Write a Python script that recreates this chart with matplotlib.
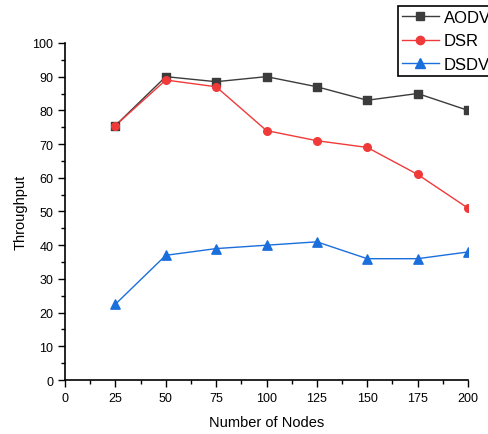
import matplotlib.pyplot as plt
from matplotlib.lines import Line2D
from matplotlib.ticker import MultipleLocator

plt.rcParams['font.family'] = ['Liberation Sans', 'DejaVu Sans']

nodes = [25, 50, 75, 100, 125, 150, 175, 200]
aodv = [75.5, 90, 88.5, 90, 87, 83, 85, 80]
dsr = [75.5, 89, 87, 74, 71, 69, 61, 51]
dsdv = [22.5, 37, 39, 40, 41, 36, 36, 38]

series = [
    ("AODV", aodv, '#3c3c3c', 's', 30),
    ("DSR", dsr, '#f03a3a', 'o', 30),
    ("DSDV", dsdv, '#1a6fdc', '^', 45),
]

fig = plt.figure(figsize=(4.89, 4.35), dpi=100)
ax = fig.add_axes([0.133, 0.124, 0.824, 0.775])

handles = []
for name, vals, col, mk, sz in series:
    ax.plot(nodes, vals, color=col, lw=1.0)
    # scatter so the markers on the axis edge get clipped in half
    ax.scatter(nodes, vals, color=col, marker=mk, s=sz, zorder=3)
    handles.append(Line2D([], [], color=col, lw=1.0, marker=mk,
                          markersize=6 if mk != '^' else 7, label=name))

ax.set_xlim(0, 200)
ax.set_ylim(0, 100)
ax.xaxis.set_major_locator(MultipleLocator(25))
ax.xaxis.set_minor_locator(MultipleLocator(12.5))
ax.yaxis.set_major_locator(MultipleLocator(10))
ax.yaxis.set_minor_locator(MultipleLocator(5))
ax.tick_params(which='major', direction='out', length=5, width=1, labelsize=9)
ax.tick_params(which='minor', direction='out', length=3, width=1)
ax.spines['top'].set_visible(False)
ax.spines['right'].set_visible(False)
ax.spines['left'].set_linewidth(1.2)
ax.spines['bottom'].set_linewidth(1.2)

ax.set_xlabel('Number of Nodes', fontsize=10.5, labelpad=8)
ax.set_ylabel('Throughput', fontsize=10.5, labelpad=3)

leg = fig.legend(handles=handles, loc='upper left',
                 bbox_to_anchor=(398 / 489, 1 - 7 / 435),
                 fontsize=12, frameon=True, fancybox=False, framealpha=1,
                 edgecolor='black', handlelength=2.2, borderpad=0.25,
                 labelspacing=0.5, handletextpad=0.3, borderaxespad=0)
leg.get_frame().set_linewidth(1.2)

fig.savefig('out.png', dpi=100)
